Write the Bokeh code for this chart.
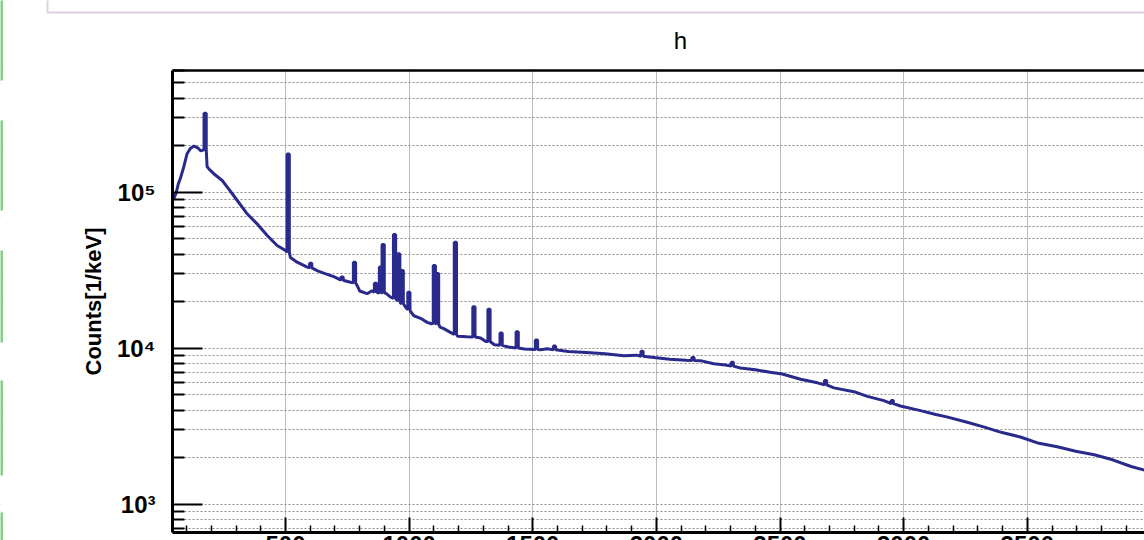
import math
from bokeh.plotting import figure
from bokeh.models import (FixedTicker, LinearAxis, Label, PolyAnnotation, Range1d,
                          BoxAnnotation)
from bokeh.embed import file_html
from bokeh.resources import INLINE

# ---------------- data ----------------
# continuum of the spectrum (energy in keV, counts per keV)
cont_energy = [43, 50, 58, 66, 76, 88, 102, 115, 130, 145, 158, 166, 183, 195, 210,
               244, 270, 305, 345, 385, 426, 466, 500, 520, 547, 588, 630, 660, 695,
               736, 763, 790, 800, 830, 850, 875, 905, 925, 950, 966, 985, 1005, 1019,
               1046, 1073, 1090, 1125, 1140, 1167, 1196, 1233, 1289, 1310, 1345, 1401,
               1466, 1532, 1558, 1600, 1644, 1718, 1793, 1868, 1920, 1980, 2054, 2120,
               2178, 2232, 2279, 2340, 2400, 2460, 2509, 2583, 2651, 2718, 2799, 2853,
               2920, 2987, 3068, 3130, 3174, 3257, 3323, 3398, 3472, 3547, 3621, 3696,
               3771, 3845, 3920, 3974]
cont_counts = [90000, 92000, 99000, 112000, 124000, 144000, 176000, 190000, 197000,
               192000, 183000, 186000, 145000, 138000, 131000, 118500, 104800, 88200,
               72500, 62500, 52600, 45400, 42200, 38000, 35500, 33000, 31200, 30000,
               28700, 27100, 26400, 25100, 23200, 22300, 23300, 22600, 22500, 21200,
               20300, 19300, 18300, 17200, 16100, 15500, 14600, 14300, 13600, 13300,
               12600, 11900, 11800, 11600, 11000, 10500, 10150, 9850, 9750, 9880, 9700,
               9510, 9370, 9180, 8910, 9000, 8730, 8470, 8350, 8300, 7920, 7790, 7450,
               7250, 7000, 6820, 6300, 5980, 5550, 5250, 4900, 4600, 4250, 3970, 3750,
               3620, 3340, 3120, 2870, 2690, 2450, 2330, 2180, 2070, 1920, 1740, 1650]

# lines in the spectrum (energy keV, top counts, base counts)
peak_energy = [175, 511, 602, 729, 779, 864, 884, 895, 941, 958, 972, 999, 1102, 1115,
               1187, 1262, 1323, 1372, 1437, 1515, 1588, 1942, 2148, 2307, 2684, 2954]
peak_top = [320000, 175000, 35000, 28500, 35500, 26000, 33000, 46000, 53400, 40200,
            31400, 22800, 33800, 30000, 47600, 18400, 17700, 12500, 12700, 11250, 10300,
            9550, 8700, 8110, 6200, 4610]
peak_base = [186000, 41000, 32600, 27200, 26200, 22800, 22500, 22500, 20800, 20000,
             19300, 17600, 14400, 14200, 12200, 11750, 11000, 10400, 10000, 9780, 9750,
             8850, 8330, 7650, 5800, 4400]

x_ticks = [500, 1000, 1500, 2000, 2500, 3000, 3500]
x_minor = [v for v in range(100, 4000, 100) if v % 500 != 0]
y_ticks = [1000, 10000, 100000]
y_tick_labels = {1000: "10\u00b3", 10000: "10\u2074", 100000: "10\u2075"}
y_minor = [700, 800, 900] + [m * 1000 for m in range(2, 10)] + \
          [m * 10000 for m in range(2, 10)] + [m * 100000 for m in range(2, 7)]

y_title = "Counts[1/keV]"
plot_title = "h"

# ---------------- pixel layout ----------------
W, H = 1144, 540
FL, FT, FB = 172, 70, 532          # histogram frame edges in page pixels
X0, X1 = 43.0, 3974.0              # x data at frame left / page right edge
Y0, Y1 = 656.7, 601000.0           # y data at frame bottom / frame top
KEV_PER_PX = (X1 - X0) / (W - FL)
L0, L1 = math.log10(Y0), math.log10(Y1)
DEC_PER_PX = (L1 - L0) / (FB - FT)

def px_to_x(px):
    return X0 + (px - FL) * KEV_PER_PX

def py_to_y(py):
    return 10 ** (L0 + (FB - py) * DEC_PER_PX)

# ---------------- histogram outline ----------------
verts = [(e, 0, c) for e, c in zip(cont_energy, cont_counts)]
hw = 4.5
for e, t, b in zip(peak_energy, peak_top, peak_base):
    verts.append((e - hw, 0, b))
    verts.append((e - hw, 1, t))
    verts.append((e + hw, 0, t))
    verts.append((e + hw, 1, b))
verts.sort(key=lambda v: (v[0], v[1]))
hx = [v[0] for v in verts]
hy = [v[2] for v in verts]

FONT = "Liberation Sans"
BLUE = "#2a2a8c"

# the plotting frame covers the whole page; the histogram frame is drawn by
# axes at fixed locations
p = figure(width=W, height=H,
           x_range=Range1d(px_to_x(0), px_to_x(W)),
           y_range=Range1d(py_to_y(H), py_to_y(0)),
           y_axis_type="log", output_backend="svg", toolbar_location=None,
           min_border_left=0, min_border_right=0, min_border_top=0,
           min_border_bottom=0)
p.title.visible = False
p.outline_line_color = None
p.background_fill_color = "white"
p.border_fill_color = "white"

# grids
xt = FixedTicker(ticks=x_ticks, minor_ticks=x_minor)
yt = FixedTicker(ticks=y_ticks, minor_ticks=y_minor)
p.xgrid.ticker = xt
p.ygrid.ticker = yt
p.xgrid.grid_line_color = "#7a7a7a"
p.xgrid.grid_line_dash = "1 1"
p.ygrid.grid_line_color = "#8c8c8c"
p.ygrid.grid_line_dash = "2 2"
p.ygrid.minor_grid_line_color = "#8c8c8c"
p.ygrid.minor_grid_line_dash = "2 2"

# white masks outside the histogram frame (below the axes, above the grid)
for kw in [dict(right=X0), dict(bottom=Y1), dict(top=Y0)]:
    p.add_layout(BoxAnnotation(level="underlay", fill_color="white", fill_alpha=1.0,
                               line_color=None, **kw))

# x axis
ax = p.xaxis[0]
ax.ticker = xt
ax.fixed_location = Y0
ax.bounds = (X0, X1)
ax.axis_line_width = 3
ax.axis_line_color = "black"
ax.major_tick_in = 15
ax.major_tick_out = 0
ax.minor_tick_in = 7
ax.minor_tick_out = 0
ax.major_tick_line_width = 2
ax.minor_tick_line_width = 1.5
ax.major_tick_line_color = "black"
ax.minor_tick_line_color = "black"
ax.major_label_text_font = FONT
ax.major_label_text_font_style = "bold"
ax.major_label_text_font_size = "24px"
ax.major_label_text_color = "black"
ax.major_label_standoff = 3

# y axis
ay = p.yaxis[0]
ay.ticker = yt
ay.fixed_location = X0
ay.bounds = (Y0, Y1)
ay.major_label_overrides = y_tick_labels
ay.major_label_text_font = FONT
ay.major_label_text_font_style = "bold"
ay.major_label_text_font_size = "24px"
ay.major_label_text_color = "black"
ay.major_label_standoff = 17
ay.axis_line_width = 3
ay.axis_line_color = "black"
ay.major_tick_in = 30
ay.major_tick_out = 0
ay.minor_tick_in = 12
ay.minor_tick_out = 0
ay.major_tick_line_width = 2
ay.minor_tick_line_width = 2
ay.major_tick_line_color = "black"
ay.minor_tick_line_color = "black"

# top frame line
top_axis = LinearAxis(ticker=FixedTicker(ticks=[]), fixed_location=Y1,
                      bounds=(X0, X1), axis_line_width=2.5, axis_line_color="black",
                      major_tick_line_color=None, minor_tick_line_color=None,
                      major_label_text_font_size="0px", major_label_standoff=0)
p.add_layout(top_axis, "above")

# histogram
p.line(hx, hy, line_color=BLUE, line_width=3)

# y title
p.add_layout(Label(x=px_to_x(93), y=py_to_y(301), text=y_title, angle=math.pi / 2,
                   text_font=FONT, text_font_style="bold", text_font_size="22px",
                   text_align="center", text_baseline="middle", text_color="black"))

# histogram title
p.add_layout(Label(x=px_to_x(680), y=py_to_y(40), text=plot_title, text_font=FONT,
                   text_font_size="24px", text_align="center",
                   text_baseline="alphabetic", text_color="black"))

# surrounding canvas decorations
p.add_layout(PolyAnnotation(xs=[px_to_x(47), px_to_x(47), px_to_x(1150), px_to_x(1150)],
                            ys=[py_to_y(-5), py_to_y(12), py_to_y(12), py_to_y(-5)],
                            fill_color=None, line_color="#9c5f9c", line_width=2))
for a, b in [(-10, 80), (120, 210), (250, 342), (380, 475), (512, 560)]:
    p.add_layout(PolyAnnotation(xs=[px_to_x(-1), px_to_x(2.5), px_to_x(2.5), px_to_x(-1)],
                                ys=[py_to_y(a), py_to_y(a), py_to_y(b), py_to_y(b)],
                                fill_color="#86cf86", fill_alpha=1.0, line_color=None))

open("out.html", "w").write(file_html(p, INLINE))
